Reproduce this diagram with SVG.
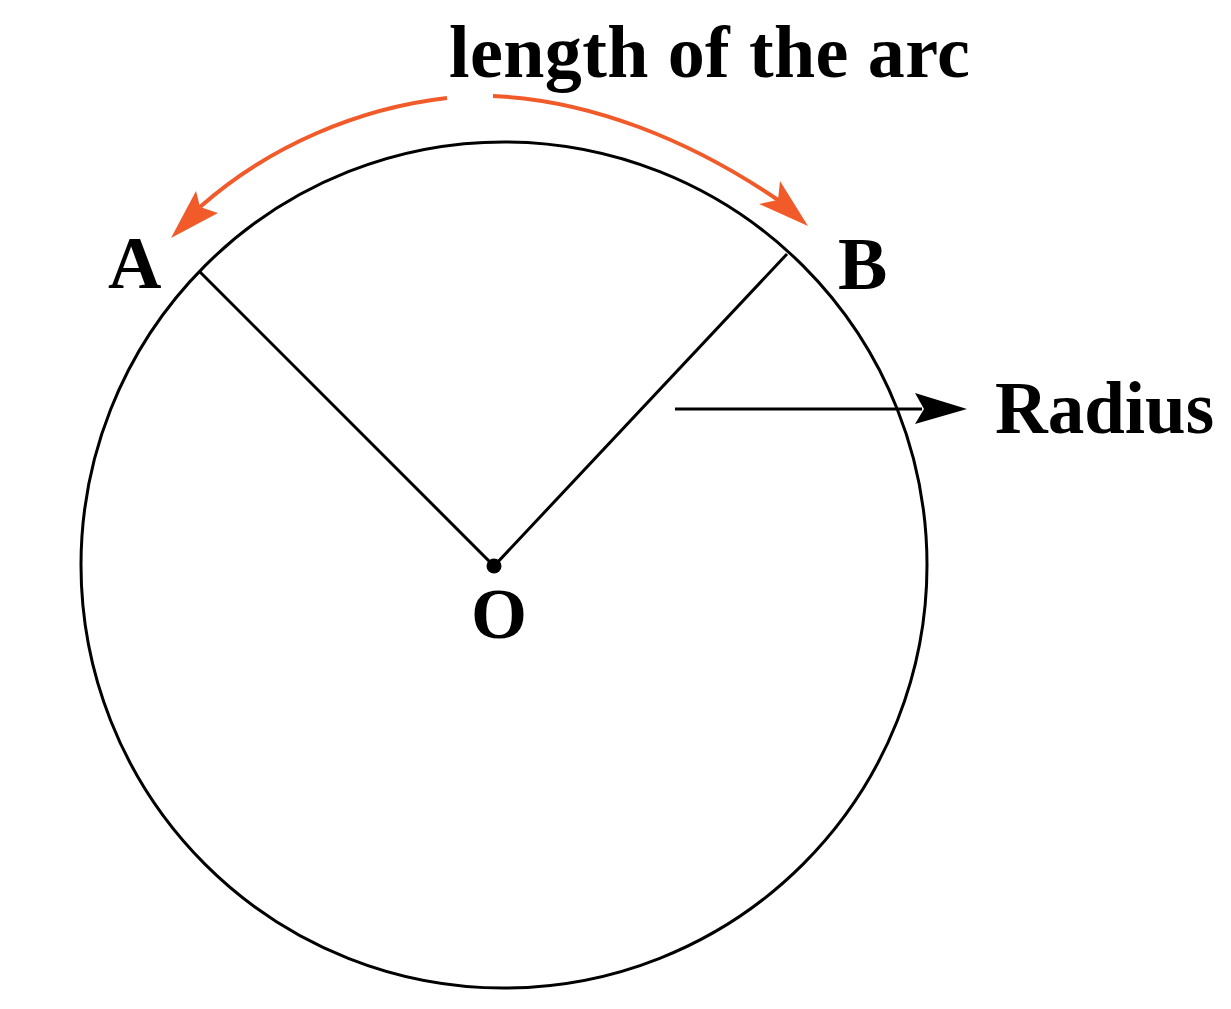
<svg xmlns="http://www.w3.org/2000/svg" width="1231" height="1009" viewBox="0 0 1231 1009">
<style>
.lbl{font-family:"Liberation Serif","Times New Roman",serif;font-weight:bold;fill:#000}
.blk{fill:none;stroke:#000;stroke-width:3}
.org{fill:none;stroke:#F15A29;stroke-width:4}
</style>
<rect width="1231" height="1009" fill="#fff"/>
<g id="circle">
<circle cx="504" cy="565" r="423" class="blk"/>
</g>
<g id="center-O">
<circle cx="494" cy="566" r="7.5" fill="#000"/>
<text class="lbl" x="499" y="638" font-size="72" text-anchor="middle">O</text>
</g>
<g id="point-A">
<text class="lbl" x="108" y="288" font-size="74">A</text>
</g>
<g id="point-B">
<text class="lbl" x="838" y="289" font-size="74">B</text>
</g>
<g id="label-arc">
<text class="lbl" x="449" y="77" font-size="74" letter-spacing="0.4">length of the arc</text>
</g>
<g id="label-radius">
<text class="lbl" x="995" y="433" font-size="73">Radius</text>
</g>
<g id="connectors">
<path class="blk" d="M200,272 L494,566 L787,254"/>
<path class="blk" d="M675,409 L922,409"/>
<polygon points="967,409 915,393 924,409 915,424" fill="#000"/>
<path class="org" d="M447,98 C360,108 270,145 200,207"/>
<polygon points="171,238 196,191 200,207 218,213" fill="#F15A29"/>
<path class="org" d="M493,96 C590,100 690,140 778,200"/>
<polygon points="808,226 780,181 778,200 759,204" fill="#F15A29"/>
</g>
</svg>
